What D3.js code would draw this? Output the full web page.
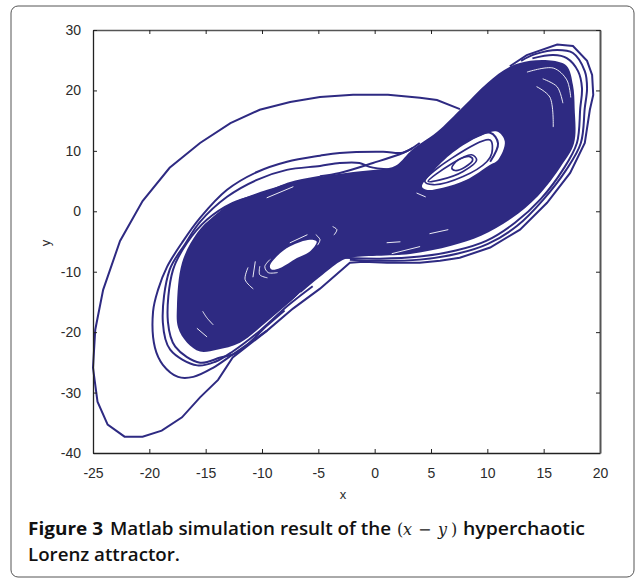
<!DOCTYPE html>
<html>
  <head>
    <meta charset="utf-8">
    <script src="https://d3js.org/d3.v7.min.js"></script>
    <style>
      html, body { margin: 0; padding: 0; background: white; }
      .tick text { font-family: "Liberation Sans", Arial, sans-serif; font-size: 14px; fill: #2b2b2b; }
      .axis-name { font-family: "Liberation Sans", Arial, sans-serif; font-size: 13px; fill: #2b2b2b; }
      .caption { font-family: "Open Sans", sans-serif; font-size: 18px; font-weight: 600; fill: #111; }
      .caption .fig { font-weight: 700; }
      .caption .math { font-family: "DejaVu Serif", serif; font-size: 16px; font-weight: normal; fill: #222; }
    </style>
  </head>
  <body>
    <div id="chart"></div>
<script>
var xTicks = [-25, -20, -15, -10, -5, 0, 5, 10, 15, 20];
var yTicks = [-40, -30, -20, -10, 0, 10, 20, 30];

// trajectories that can still be told apart as [x, y]
var bigLoop = [[7.57,16.9],[5.53,18.4],[4.02,18.8],[1.18,19.3],[-1.92,19.3],[-4.85,18.9],[-7.5,18.1],[-10.2,16.8],[-12.8,14.6],[-15.5,11.3],[-18.2,7.2],[-20.6,1.7],[-22.6,-4.9],[-24.1,-13],[-24.8,-19.6],[-25,-25.9],[-24.6,-31.5],[-23.7,-35.3],[-22.2,-37.3],[-20.6,-37.3],[-18.9,-36.3],[-17.1,-34.1],[-15.5,-30.8],[-13.9,-27.9],[-12.6,-24.2],[-9.55,-19.75],[-7.25,-16.1],[-4.85,-12.8],[-2.2,-8.5],[-1,-8.35],[1.1,-8.5],[4,-8.5],[5.8,-8.2],[7.55,-7.7],[10.25,-6],[12.9,-3.05],[15.3,1.4],[17.35,6.35],[18.65,11.3],[19.1,16.8],[19.4,19.25],[19.3,22.55],[18.85,24.9],[17.6,27.35],[16.2,27.6],[13.5,25.85],[12,24]];
var loopA = [[4,11.3],[2.5,9.7],[0.75,9.85],[-3.1,9.65],[-4.85,9.2],[-7.78,8.2],[-10.44,6.5],[-13.1,3.55],[-15.5,-1.1],[-17.1,-5.2],[-18.43,-9.2],[-19.23,-13],[-19.67,-16.6],[-19.5,-22.6],[-18.8,-25.4],[-17.45,-27.4],[-16.1,-27.4],[-14.35,-25.9],[-12.6,-23.7],[-9.55,-19.75]];
var loopB = [[1.4,6.9],[-0.45,7.35],[-1.35,8],[-3.1,8],[-4.85,7.5],[-7.8,6.85],[-10.45,5.2],[-13.1,2.4],[-15.5,-1.75],[-16.85,-5.5],[-18.2,-9.7],[-18.8,-18.4],[-18.15,-22.9],[-15.75,-25.5],[-14.15,-24.9],[-12.6,-23.2],[-10.2,-19.8],[-7.7,-15.6],[-5.5,-12.4]];
var loopC = [[-4.85,5.7],[-7.5,4.7],[-9.55,3.2],[-12.6,1.4],[-14.9,-1.4],[-16.65,-5.2],[-17.9,-9.7],[-18.35,-18.3],[-17.7,-22.4],[-15.5,-25.05],[-13.7,-24.2],[-12.2,-23.4],[-9.55,-18.9],[-8,-16.4]];
var loopE = [[-2.2,-8],[0.45,-8.2],[4,-8],[7.4,-7],[10.05,-5.4],[12.65,-2.4],[14.95,1.9],[17,6.85],[18.3,11.3],[18.65,17.1],[18.85,20.4],[18.65,23.2],[17.6,26.2],[16.2,26.7],[14.25,26],[13,24.9]];
var loopF = [[-2.55,-7.7],[0.45,-7.85],[4,-7.5],[7.2,-6.5],[9.9,-4.9],[12.45,-1.9],[14.75,2.05],[16.7,6.85],[17.95,11.3],[18.25,17.1],[18.4,20.4],[18.05,23.2],[17.05,25.35],[15.85,25.85],[14,25.3]];
var loopH = [[3.4,10.5],[2.5,9.65],[-0.15,8],[-3.1,6.35],[-4.85,5.8]];
var ringA = [[4.45,4.95],[6.85,8.8],[10.25,11.8],[10.4,9.6],[9.95,8.2],[7.85,5.75],[5.2,4.4]];
var ringB = [[4.75,4.95],[6.7,7.7],[8.6,9.35],[9.05,8.5],[7.85,6.6],[5.8,5.2]];
var ringC = [[6.85,7.15],[7.4,8.5],[8.45,9.05],[8.7,8.5],[8,7.3],[7.15,6.75]];
var arcD = [[7.55,11],[10.25,13],[10.95,11.25],[10.25,8.2]];

// where the lines run together: outline of the solid part and the holes left in it
var denseBand = [[13.8,24.9],[15.85,24.9],[17.05,24.05],[17.6,20.9],[17.75,17.1],[17.7,11.3],[16.55,7.5],[14.5,2.55],[12.1,-1.25],[9.45,-4.05],[6.8,-5.7],[3.15,-7.05],[-2.2,-7.7],[-3.1,-8.35],[-4.85,-10.85],[-7.25,-14.6],[-9.55,-18.25],[-11.95,-21.75],[-14,-22.9],[-15.5,-23.2],[-16.65,-21.75],[-17.45,-19.25],[-17.55,-15.8],[-17.1,-8.5],[-15.75,-3.55],[-14.35,-0.9],[-12.6,1.4],[-9.55,3.55],[-7.5,4.7],[-4.85,5.7],[-1.9,6.5],[1.35,7.2],[2,7.7],[3.3,10.15],[4.3,11.5],[5.55,13.15],[7.85,17.3],[10,21.25],[12,23.9]];
var holeRight = [[4.2,4.1],[4.9,6],[6.7,9.35],[9.05,12.15],[10.85,13.2],[11.55,11.55],[10.95,8.5],[10.25,7.7],[8.15,5.2],[6.05,3.9],[4.6,3.55]];
var holeLeft = [[-9.3,-9.1],[-8.7,-7.5],[-7.5,-5.8],[-5.75,-4.7],[-5.15,-5],[-5.75,-6.65],[-6.9,-7.75],[-8.4,-9.4],[-9.15,-9.65]];
var gaps = [
  [[13.55,23.05],[15.85,23.7],[17.05,21.75],[17.4,18.9]],
  [[14.95,21.9],[16.2,20.6],[16.7,17.95]],
  [[14.4,20.6],[15.55,18.9],[15.85,14]],
  [[4.9,-3.7],[6.5,-3.05]],
  [[1.1,-5.2],[2.25,-5.05]],
  [[1.55,-7],[4,-5.85]],
  [[4.2,-7.2],[7.55,-5.85]],
  [[3.75,3],[4.5,2.4]],
  [[-3.7,-2.55],[-3.35,-3.05],[-3.6,-3.9]],
  [[-15.25,-16.6],[-14.9,-17.6],[-14.35,-18.75]],
  [[-15.75,-19.4],[-14.9,-20.75]],
  [[-9.55,2.25],[-7.25,4.05]],
  [[-8.4,-16.8],[-6.6,-13.5]],
  [[-9.3,-8],[-9.75,-9.15],[-9.45,-10.15],[-8.65,-10.15]],
  [[-10.2,-9.15],[-10.2,-10.5],[-9.55,-11]],
  [[-11.25,-9.35],[-11.5,-11.3],[-10.8,-12.8]],
  [[-10.6,-8.35],[-10.8,-10.85]],
  [[-5.2,-3.9],[-4.85,-4.7],[-5.05,-5.55]],
  [[-7.5,-5.2],[-6,-3.9]]
];

var width = 635, height = 578;
var blue = "#2e2a82";

var svg = d3.select("#chart").append("svg")
  .attr("width", width)
  .attr("height", height)
  .style("display", "block");

// page frame
svg.append("rect")
  .attr("x", 11).attr("y", 6)
  .attr("width", 623).attr("height", 571)
  .attr("rx", 7)
  .style("fill", "none").style("stroke", "#555").style("stroke-width", 1);

var x = d3.scaleLinear().domain([-25, 20]).range([93, 600]);
var y = d3.scaleLinear().domain([-40, 30]).range([453, 30]);

var straightPath = d3.line()
  .x(function(d) { return x(d[0]); })
  .y(function(d) { return y(d[1]); });
var smoothPath = d3.line()
  .x(function(d) { return x(d[0]); })
  .y(function(d) { return y(d[1]); })
  .curve(d3.curveCatmullRom);
var ringPath = d3.line()
  .x(function(d) { return x(d[0]); })
  .y(function(d) { return y(d[1]); })
  .curve(d3.curveCatmullRomClosed);

svg.append("path").attr("d", ringPath(denseBand)).style("fill", blue);

[holeRight, holeLeft].forEach(function(h) {
  svg.append("path").attr("d", ringPath(h)).style("fill", "white");
});

gaps.forEach(function(g) {
  svg.append("path").attr("d", smoothPath(g))
    .style("fill", "none").style("stroke", "white").style("stroke-width", 0.9).style("stroke-linecap", "round");
});

svg.append("path").attr("d", straightPath(bigLoop))
  .style("fill", "none").style("stroke", blue).style("stroke-width", 2);

[loopA, loopB, loopC, loopE, loopF, loopH, arcD].forEach(function(l) {
  svg.append("path").attr("d", smoothPath(l))
    .style("fill", "none").style("stroke", blue).style("stroke-width", 2);
});

[ringA, ringB, ringC].forEach(function(l) {
  svg.append("path").attr("d", ringPath(l))
    .style("fill", "none").style("stroke", blue).style("stroke-width", 1.7);
});

// ---------- axes -----------
function styleAxis(g) {
  g.selectAll("line").style("stroke", "#222");
  g.select(".domain").style("stroke", "#222").style("stroke-width", 1.3);
}

svg.append("g").attr("transform", "translate(0,453)")
  .call(d3.axisBottom(x).tickValues(xTicks).tickSize(-4).tickPadding(15).tickSizeOuter(0))
  .call(styleAxis);
svg.append("g").attr("transform", "translate(0,30)")
  .call(d3.axisTop(x).tickValues(xTicks).tickSize(-4).tickFormat("").tickSizeOuter(0))
  .call(styleAxis)
  .select(".domain").style("stroke", "#555");
svg.append("g").attr("transform", "translate(93,0)")
  .call(d3.axisLeft(y).tickValues(yTicks).tickSize(-4).tickPadding(12).tickSizeOuter(0))
  .call(styleAxis);
svg.append("g").attr("transform", "translate(600,0)")
  .call(d3.axisRight(y).tickValues(yTicks).tickSize(-4).tickFormat("").tickSizeOuter(0))
  .call(styleAxis)
  .select(".domain").style("stroke", "#555").style("stroke-width", 2);

d3.selectAll(".tick text").text(function() { return d3.select(this).text().replace("−", "-"); });

svg.append("text").attr("class", "axis-name")
  .attr("x", 343).attr("y", 499).attr("text-anchor", "middle").text("x");
svg.append("text").attr("class", "axis-name")
  .attr("transform", "translate(50,243) rotate(-90)").attr("text-anchor", "middle").text("y");

// ---------- caption -----------
var line1 = svg.append("text").attr("class", "caption").attr("y", 535);
line1.append("tspan").attr("class", "fig").attr("x", 28).attr("textLength", 75).attr("lengthAdjust", "spacingAndGlyphs").text("Figure 3");
line1.append("tspan").attr("x", 110).attr("textLength", 281).attr("lengthAdjust", "spacingAndGlyphs").text("Matlab simulation result of the");
line1.append("tspan").attr("class", "math").attr("x", 397).text("(");
line1.append("tspan").attr("class", "math").attr("x", 403).style("font-style", "italic").text("x");
line1.append("tspan").attr("class", "math").attr("x", 418).text("−");
line1.append("tspan").attr("class", "math").attr("x", 438).style("font-style", "italic").text("y");
line1.append("tspan").attr("class", "math").attr("x", 451).text(")");
line1.append("tspan").attr("x", 463).attr("textLength", 122).attr("lengthAdjust", "spacingAndGlyphs").text("hyperchaotic");
svg.append("text").attr("class", "caption").attr("x", 28).attr("y", 561)
  .attr("textLength", 152).attr("lengthAdjust", "spacingAndGlyphs").text("Lorenz attractor.");
</script>
  </body>
</html>
